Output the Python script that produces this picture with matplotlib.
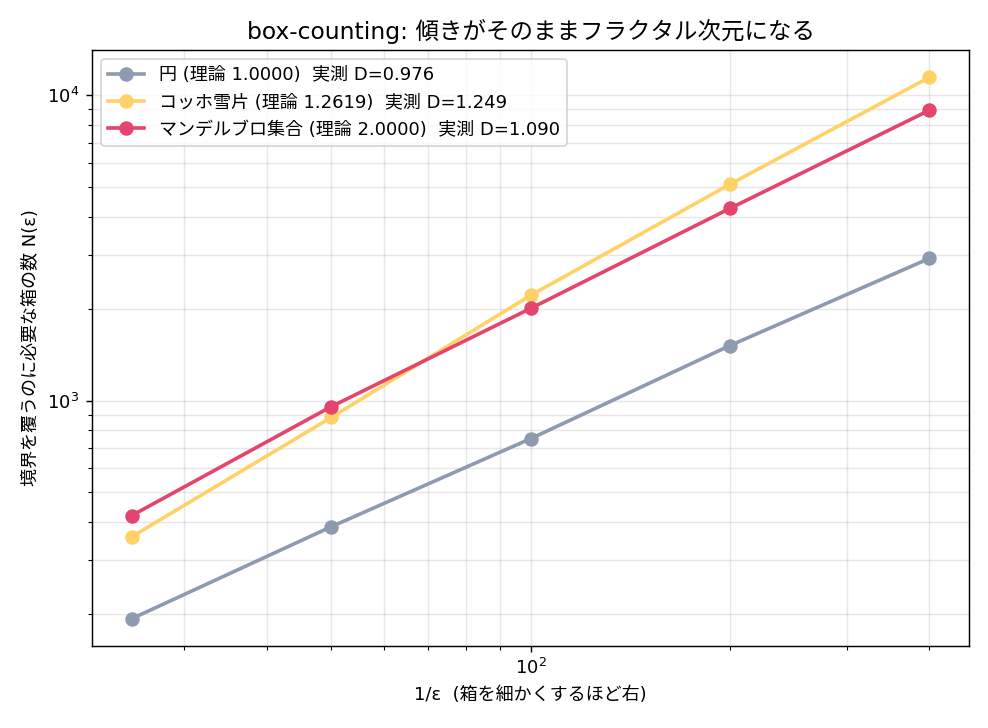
import matplotlib
matplotlib.use("Agg")
import matplotlib.pyplot as plt

plt.rcParams['font.family'] = ['DejaVu Sans', 'Noto Sans CJK JP']

# データ
inv_eps = [25, 50, 100, 200, 400]
circle = [193, 386, 750, 1514, 2921]
koch = [358, 880, 2210, 5110, 11450]
mandel = [420, 955, 2003, 4260, 8930]

labels = [
    "円 (理論 1.0000)  実測 D=0.976",
    "コッホ雪片 (理論 1.2619)  実測 D=1.249",
    "マンデルブロ集合 (理論 2.0000)  実測 D=1.090",
]
colors = ["#8e9aaf", "#ffd166", "#e5446d"]

fig, ax = plt.subplots(figsize=(7.6, 5.6), dpi=130)
for ys, lab, c in zip([circle, koch, mandel], labels, colors):
    ax.plot(inv_eps, ys, "-o", color=c, lw=2, ms=7, label=lab)

ax.set_xscale("log")
ax.set_yscale("log")
ax.grid(True, which="both", alpha=0.3)
ax.set_title("box-counting: 傾きがそのままフラクタル次元になる", fontsize=13)
ax.set_xlabel("1/ε  (箱を細かくするほど右)", fontsize=10)
ax.set_ylabel("境界を覆うのに必要な箱の数 N(ε)", fontsize=10)
ax.legend(loc="upper left", fontsize=10)

fig.subplots_adjust(left=0.093, right=0.981, top=0.931, bottom=0.113)
plt.savefig("out.png")
